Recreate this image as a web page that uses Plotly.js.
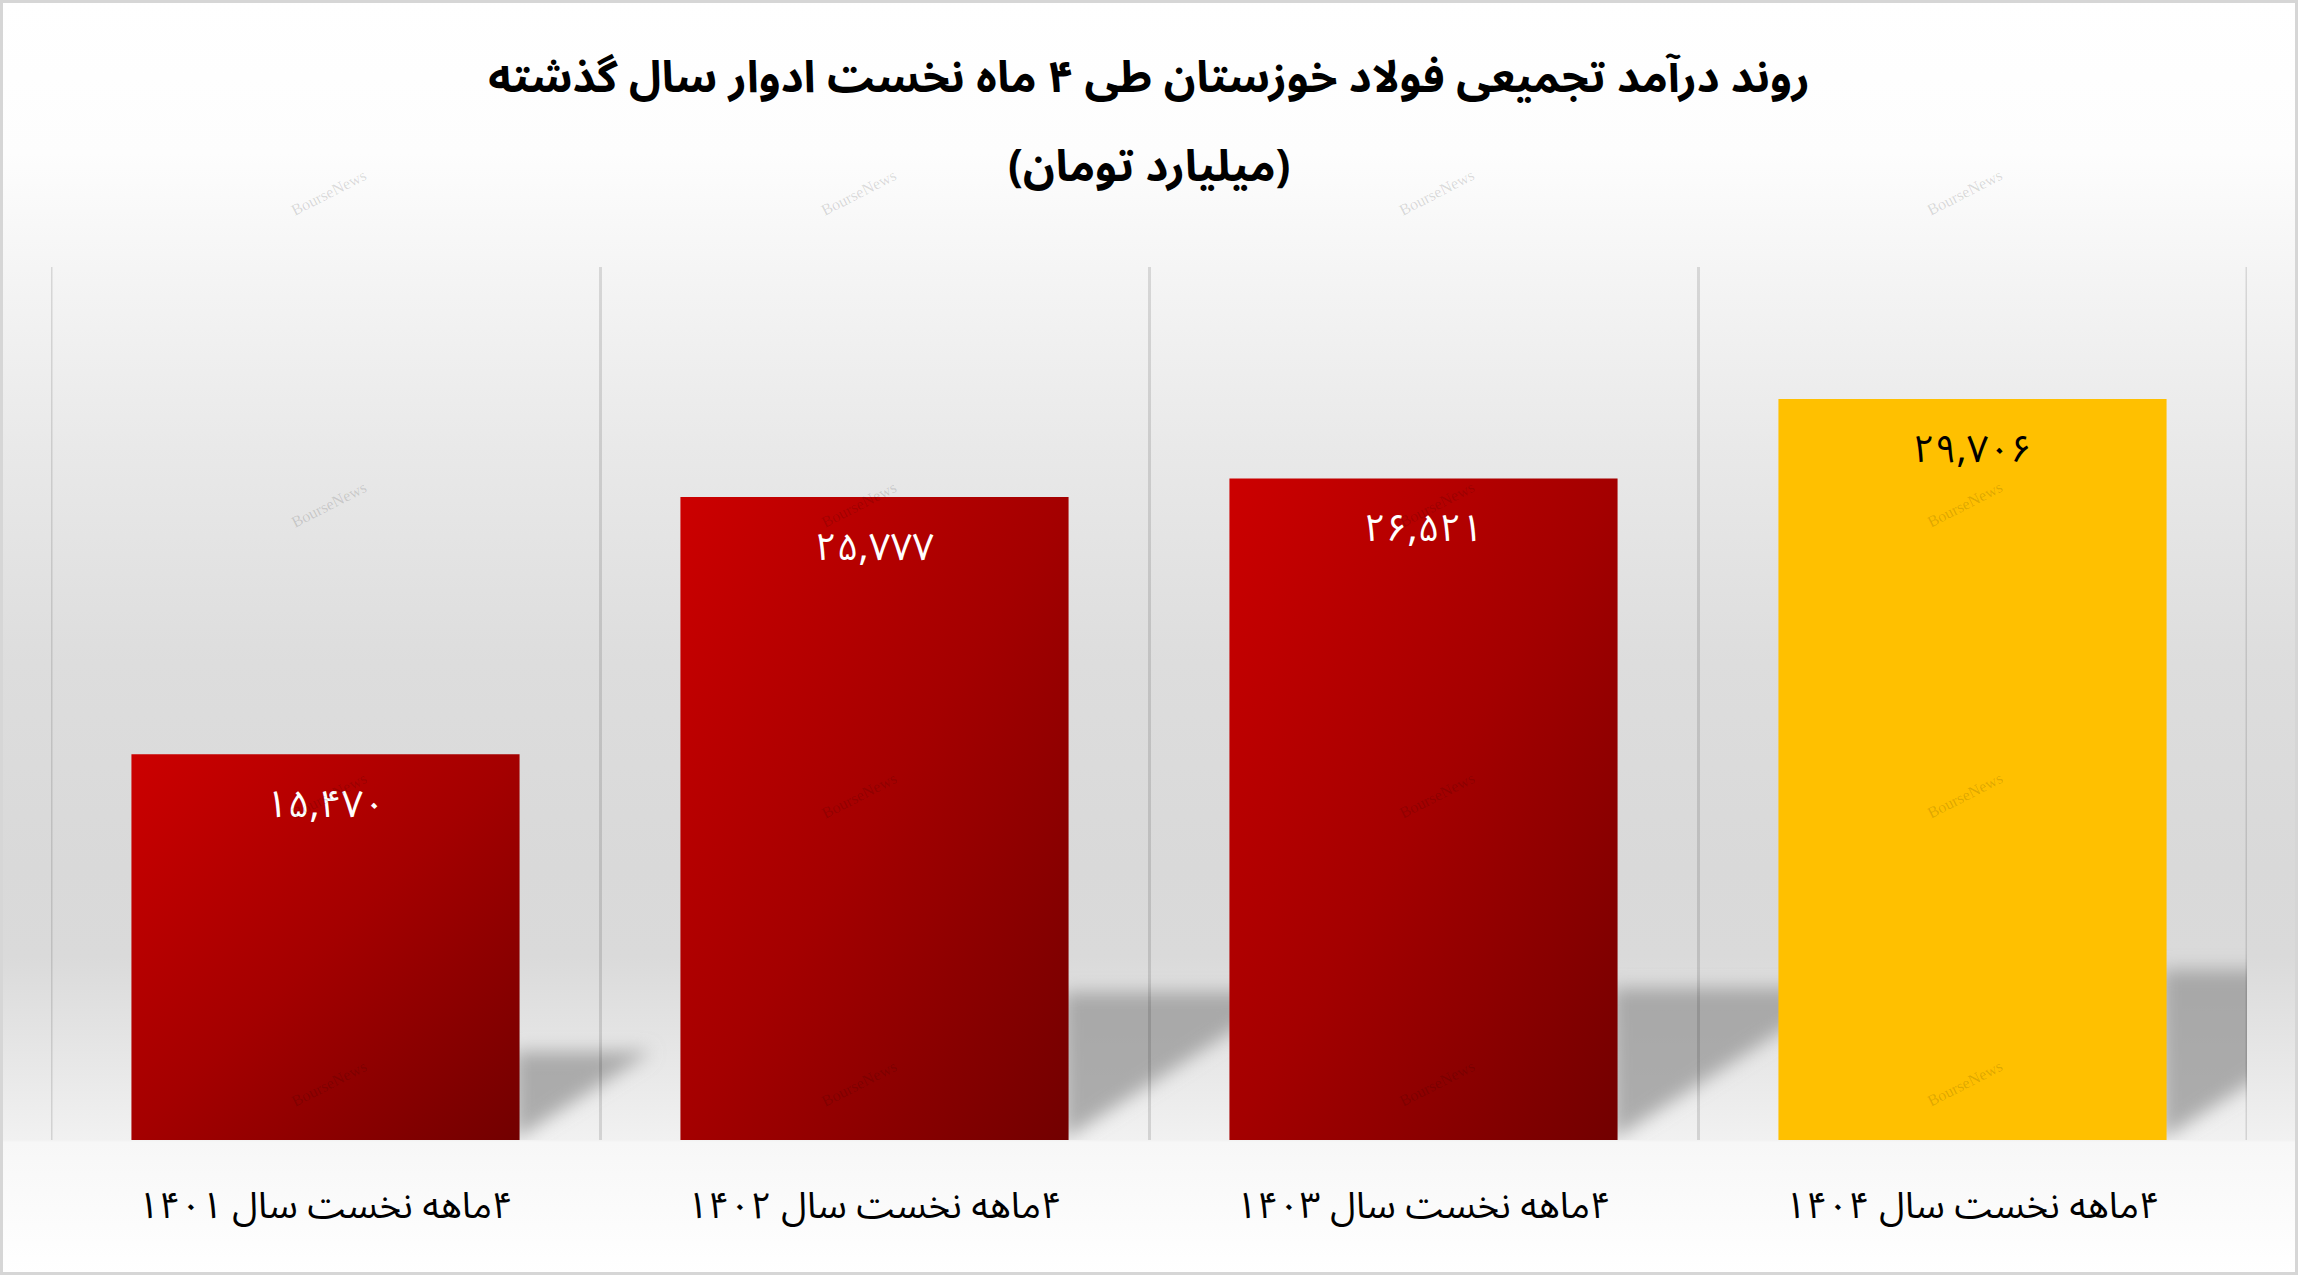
<!DOCTYPE html>
<html>
<head>
<meta charset="utf-8">
<script src="https://cdn.plot.ly/plotly-3.0.1.min.js"></script>
<style>
  html, body { margin: 0; padding: 0; background: #ffffff; }
  #wrap { position: relative; width: 2298px; height: 1275px; overflow: hidden;
    background: linear-gradient(to bottom,
      #ffffff 0%, #fdfdfd 12%, #f5f5f5 21%, #e9e9e9 35%, #dddddd 52%,
      #d9d9d9 68%, #dadada 75%, #f1f1f1 89.4%, #f7f7f7 89.6%, #ffffff 100%); }
  #chart { position: absolute; left: 0; top: 0; width: 2298px; height: 1275px; }
  #frame { position: absolute; left: 0; top: 0; width: 2298px; height: 1275px; box-sizing: border-box;
    border: 3px solid #d6d6d6; pointer-events: none; }
</style>
</head>
<body>
<div id="wrap"><div id="chart"></div><div id="frame"></div></div>
<script>
// ---- data ----
const categories = ['۴ماهه نخست سال ۱۴۰۱', '۴ماهه نخست سال ۱۴۰۲', '۴ماهه نخست سال ۱۴۰۳', '۴ماهه نخست سال ۱۴۰۴'];
const values = [15470, 25777, 26521, 29706];
const titleText = 'روند درآمد تجمیعی فولاد خوزستان طی ۴ ماه نخست ادوار سال گذشته';
const unitText = '(میلیارد تومان)';
const watermarkText = 'BourseNews';

// ---- helpers ----
const RLM = '\u200F';
const rtl = s => RLM + s + RLM;
const faDigits = '۰۱۲۳۴۵۶۷۸۹';
const toFa = n => n.toLocaleString('en-US').replace(/\d/g, d => faDigits[+d]);

const FONT = "'Noto Sans Arabic', 'DejaVu Sans', sans-serif";
const xLabels = categories.map(rtl);
const lastIdx = values.length - 1;
const barColors = values.map((v, i) => i === lastIdx ? '#FFC000' : '#B00000');
const BARGAP = 0.293;
const YMAX = 35000;
const GRID = 'rgba(0,0,0,0.12)';

const trace = {
  type: 'bar',
  x: xLabels,
  y: values,
  marker: { color: barColors, line: { width: 0 } },
  hoverinfo: 'skip',
  textposition: 'none'
};

// value labels inside top of each bar
const valueAnn = values.map((v, i) => ({
  x: xLabels[i], y: v, xref: 'x', yref: 'y',
  text: toFa(v), showarrow: false, yanchor: 'middle', yshift: -51,
  font: { family: FONT, size: 38, color: i === lastIdx ? '#000000' : '#ffffff' }
}));

// watermark grid (decorative)
const wmCols = [0.107, 0.368, 0.631, 0.891];
const wmRows = [1.118, 0.761, 0.395, 0.032];
const wmAnn = [];
wmRows.forEach(r => wmCols.forEach(c => wmAnn.push({
  x: c, y: r, xref: 'paper', yref: 'paper', text: watermarkText, showarrow: false,
  textangle: -27, font: { family: "'Liberation Serif', serif", size: 16, color: 'rgba(0,0,0,0.14)' }
})));

// soft cast shadows to the right of each bar (decorative, derived from values)
const halfW = (1 - BARGAP) / 2;
const plotHpx = 873, catWpx = 549;
const shadowShapes = values.map((v, i) => {
  const h = v * 0.23;
  const hpx = h / YMAX * plotHpx;
  const L = 1.55 * hpx / catWpx;
  const x0 = i + halfW - 0.01;
  return {
    type: 'path', xref: 'x', yref: 'y', layer: 'below',
    path: `M ${x0} 0 L ${x0} ${h} L ${x0 + L} ${h} Z`,
    fillcolor: 'rgba(150,150,150,0.75)', line: { width: 0 }
  };
});
// outer category boundary lines (the inner ones come from the axis grid)
const edgeLines = [-0.5, values.length - 0.5].map(xv => ({
  type: 'line', xref: 'x', yref: 'paper', x0: xv, x1: xv, y0: 0, y1: 1,
  layer: 'above', line: { color: GRID, width: 3 }
}));

const layout = {
  width: 2298, height: 1275,
  margin: { l: 51, r: 51, t: 267, b: 135, pad: 0 },
  paper_bgcolor: 'rgba(0,0,0,0)',
  plot_bgcolor: 'rgba(0,0,0,0)',
  showlegend: false,
  bargap: BARGAP,
  title: {
    text: rtl(titleText),
    font: { family: FONT, size: 44, color: '#000000', weight: 'bold' },
    x: 0.5, xref: 'container', xanchor: 'center',
    y: 1 - 77 / 1275, yref: 'container', yanchor: 'middle'
  },
  xaxis: {
    type: 'category',
    range: [-0.5, values.length - 0.5], autorange: false,
    tickson: 'boundaries',
    showgrid: true, gridcolor: GRID, gridwidth: 3,
    showline: false, zeroline: false, ticks: '',
    ticklabelstandoff: 40,
    tickfont: { family: FONT, size: 37, color: '#000000' },
    fixedrange: true
  },
  yaxis: {
    range: [0, YMAX], autorange: false, visible: false, showgrid: false, zeroline: false, fixedrange: true
  },
  annotations: [
    { x: 0.5, y: 1.114, xref: 'paper', yref: 'paper', text: rtl(unitText), showarrow: false,
      yanchor: 'middle', font: { family: FONT, size: 44, color: '#000000', weight: 'bold' } },
    ...valueAnn,
    ...wmAnn
  ],
  shapes: [...shadowShapes, ...edgeLines]
};

Plotly.newPlot('chart', [trace], layout, { staticPlot: true, displayModeBar: false }).then(gd => {
  const svg = gd.querySelector('svg.main-svg');
  const NS = 'http://www.w3.org/2000/svg';
  let defs = svg.querySelector('defs');
  if (!defs) { defs = document.createElementNS(NS, 'defs'); svg.insertBefore(defs, svg.firstChild); }
  defs.insertAdjacentHTML('beforeend',
    '<linearGradient id="redGrad" x1="0" y1="0" x2="1" y2="1">' +
      '<stop offset="0" stop-color="#CC0000"/>' +
      '<stop offset="0.5" stop-color="#A40000"/>' +
      '<stop offset="1" stop-color="#720000"/>' +
    '</linearGradient>' +
    '<filter id="softBlur" x="-50%" y="-50%" width="200%" height="200%">' +
      '<feGaussianBlur stdDeviation="9"/>' +
    '</filter>');
  gd.querySelectorAll('.bars .point path').forEach((p, i) => {
    if (i !== lastIdx) p.style.setProperty('fill', 'url(#redGrad)');
  });
  gd.querySelectorAll('path').forEach(p => {
    const d = p.getAttribute('d') || '';
    if (p.closest('.shapelayer') && /Z/i.test(d)) {
      const g = document.createElementNS(NS, 'g');
      g.setAttribute('filter', 'url(#softBlur)');
      p.parentNode.insertBefore(g, p);
      g.appendChild(p);
    }
  });
});
</script>
</body>
</html>
